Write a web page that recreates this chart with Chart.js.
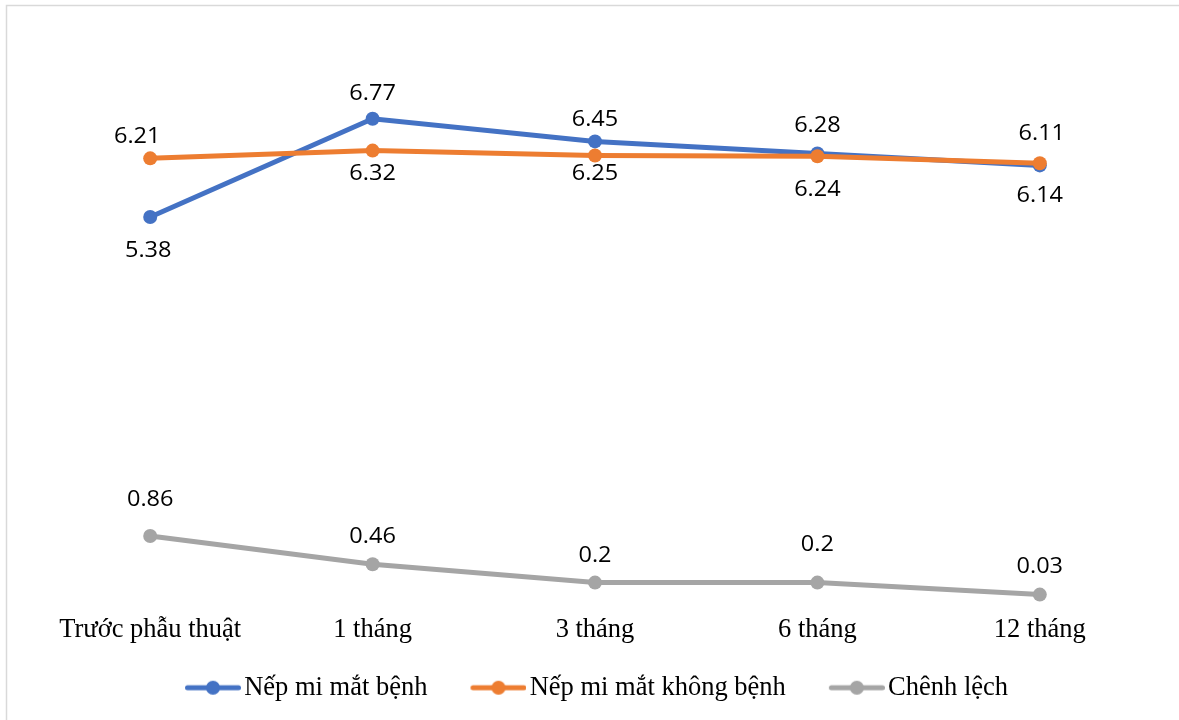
<!DOCTYPE html>
<html>
<head>
<meta charset="utf-8">
<script src="https://cdn.jsdelivr.net/npm/chart.js@4.4.1/dist/chart.umd.min.js"></script>
<style>
  html, body { margin: 0; padding: 0; background: #ffffff; }
  #wrap { width: 1179px; height: 720px; position: relative; }
</style>
</head>
<body>
<div id="wrap"><canvas id="chart"></canvas></div>
<script>
// Time points of the follow-up
const categories = ['Trước phẫu thuật', '1 tháng', '3 tháng', '6 tháng', '12 tháng'];

// Eyelid crease height (mm)
const affectedLid = [5.38, 6.77, 6.45, 6.28, 6.11];
const healthyLid  = [6.21, 6.32, 6.25, 6.24, 6.14];
const difference  = [0.86, 0.46, 0.2, 0.2, 0.03];

const seriesNames = ['Nếp mi mắt bệnh', 'Nếp mi mắt không bệnh', 'Chênh lệch'];

// Value range of the (hidden) vertical axis
const yMin = 0;
const yMax = 8;

// Styling
const colors = ['#4472C4', '#ED7D31', '#A5A5A5'];
const serifFont = "'Liberation Serif', 'Times New Roman', serif";
const labelFont = "'Open Sans', 'Noto Sans', sans-serif";
const SERIF_SIZE = 26.5;

// Where each value label sits relative to its point (px)
const labelDy = [
  [34, -25, -21, -27, -31],
  [-21, 23, 18, 34, 33],
  [-36, -27, -27, -38, -28]
];
const labelDx = [
  [-2, 0, 0, 0, 2],
  [-13, 0, 0, 0, 0],
  [0, 0, 0, 0, 0]
];

// Legend key: short line with a dot, placed at the right end of the image
const LEGEND_BOX = 77;
const LEGEND_SHIFT = -14;
function legendKey(color) {
  const c = document.createElement('canvas');
  const w = LEGEND_BOX + 20, h = 16;
  c.width = w; c.height = h;
  const g = c.getContext('2d');
  const x0 = w - 56;
  g.strokeStyle = color;
  g.lineWidth = 5;
  g.lineCap = 'round';
  g.beginPath();
  g.moveTo(x0 + 2.5, h / 2);
  g.lineTo(w - 2.5, h / 2);
  g.stroke();
  g.fillStyle = color;
  g.beginPath();
  g.arc(x0 + 28, h / 2, 7, 0, Math.PI * 2);
  g.fill();
  return c;
}
const legendKeys = colors.map(legendKey);

// Page background and frame
const framePlugin = {
  id: 'frame',
  afterLayout(chart) {
    if (chart.legend) {
      chart.legend.left += LEGEND_SHIFT;
      chart.legend.right += LEGEND_SHIFT;
    }
  },
  beforeDraw(chart) {
    const ctx = chart.ctx;
    ctx.save();
    ctx.fillStyle = '#ffffff';
    ctx.fillRect(0, 0, chart.width, chart.height);
    ctx.strokeStyle = '#d9d9d9';
    ctx.lineWidth = 1.5;
    ctx.strokeRect(6.5, 5.5, chart.width + 20, chart.height + 20);
    ctx.restore();
  }
};

// Value labels next to each point
const valueLabels = {
  id: 'valueLabels',
  afterDatasetsDraw(chart) {
    const ctx = chart.ctx;
    chart.data.datasets.forEach((ds, di) => {
      const meta = chart.getDatasetMeta(di);
      meta.data.forEach((pt, i) => {
        ctx.save();
        ctx.font = '21px ' + labelFont;
        ctx.fillStyle = '#000000';
        ctx.textAlign = 'center';
        ctx.textBaseline = 'middle';
        ctx.translate(pt.x + labelDx[di][i], pt.y + labelDy[di][i]);
        ctx.scale(1.12, 1);
        ctx.fillText(String(ds.data[i]), 0, 0);
        ctx.restore();
      });
    });
  }
};

function makeDataset(label, data, color, order) {
  return {
    label: label,
    data: data,
    borderColor: color,
    backgroundColor: color,
    borderWidth: 5,
    pointRadius: 7,
    pointHoverRadius: 7,
    pointBorderWidth: 0,
    pointBackgroundColor: color,
    tension: 0,
    clip: false,
    order: order
  };
}

new Chart(document.getElementById('chart'), {
  type: 'line',
  data: {
    labels: categories,
    datasets: [
      makeDataset(seriesNames[0], affectedLid, colors[0], 2),
      makeDataset(seriesNames[1], healthyLid, colors[1], 1),
      makeDataset(seriesNames[2], difference, colors[2], 0)
    ]
  },
  options: {
    responsive: true,
    maintainAspectRatio: false,
    animation: false,
    layout: { padding: { left: 39, right: 28, top: 32, bottom: 9 } },
    scales: {
      x: {
        offset: true,
        grid: { display: false, drawTicks: false, offset: true },
        border: { display: false },
        ticks: {
          color: '#000000',
          font: { family: serifFont, size: SERIF_SIZE },
          padding: 17,
          maxRotation: 0
        }
      },
      y: {
        display: false,
        min: yMin,
        max: yMax
      }
    },
    plugins: {
      legend: {
        position: 'bottom',
        labels: {
          color: '#000000',
          font: { family: serifFont, size: SERIF_SIZE },
          usePointStyle: true,
          pointStyleWidth: LEGEND_BOX,
          padding: 12,
          generateLabels(chart) {
            return chart.data.datasets.map((ds, i) => ({
              text: ds.label,
              pointStyle: legendKeys[i],
              fillStyle: colors[i],
              strokeStyle: colors[i],
              lineWidth: 0,
              hidden: !chart.isDatasetVisible(i),
              datasetIndex: i,
              fontColor: '#000000'
            }));
          }
        }
      },
      tooltip: { enabled: false }
    }
  },
  plugins: [framePlugin, valueLabels]
});
</script>
</body>
</html>
